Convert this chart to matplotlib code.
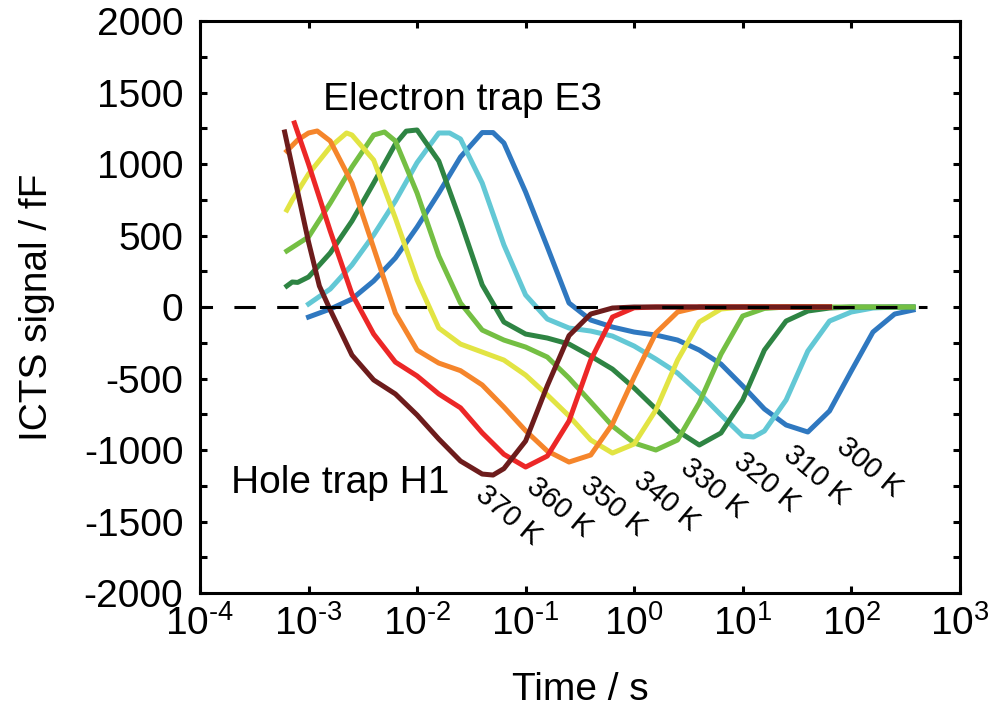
import numpy as np
import matplotlib
matplotlib.use("Agg")
import matplotlib.pyplot as plt
from matplotlib.ticker import MultipleLocator, NullLocator, FixedLocator, FuncFormatter

plt.rcParams['font.family'] = ['Liberation Sans', 'DejaVu Sans']
plt.rcParams['mathtext.fontset'] = 'custom'
plt.rcParams['mathtext.rm'] = 'Liberation Sans'
plt.rcParams['mathtext.default'] = 'regular'
plt.rcParams['axes.unicode_minus'] = False

# ICTS transients: log10(time / s) and signal in fF, one pair per temperature
LOGT_300 = [-3.0, -2.8, -2.6, -2.4, -2.2, -2.0, -1.8, -1.6, -1.4, -1.3, -1.2, -1.0, -0.8, -0.6, -0.4,
            -0.2, 0.0, 0.2, 0.4, 0.6, 0.8, 1.0, 1.2, 1.4, 1.6, 1.8, 2.0, 2.2, 2.4, 2.57]
SIG_300 = [-70, -14, 56, 182, 343, 559, 797, 1049, 1220, 1220, 1147, 804, 420, 28, -91,
           -140, -175, -196, -231, -301, -399, -552, -713, -825, -874, -727, -448, -175, -49, -21]

LOGT_310 = [-3.0, -2.8, -2.6, -2.4, -2.2, -2.0, -1.8, -1.7, -1.6, -1.4, -1.2, -1.0, -0.8, -0.6, -0.4, -0.2,
            0.0, 0.2, 0.4, 0.6, 0.8, 1.0, 1.1, 1.2, 1.4, 1.6, 1.8, 2.0, 2.2, 2.4, 2.57]
SIG_310 = [21, 126, 294, 504, 741, 1010, 1217, 1217, 1175, 867, 434, 84, -84, -147, -168, -203,
           -273, -364, -462, -601, -755, -902, -909, -867, -650, -308, -98, -35, -7, 0, 0]

LOGT_320 = [-3.2, -3.15, -3.1, -3.0, -2.8, -2.6, -2.4, -2.2, -2.1, -2.0, -1.8, -1.6, -1.4, -1.2, -1.0, -0.8,
            -0.6, -0.4, -0.2, 0.0, 0.2, 0.4, 0.6, 0.8, 1.0, 1.2, 1.4, 1.6, 1.8, 2.0, 2.2, 2.4, 2.57]
SIG_320 = [147, 175, 172, 210, 378, 601, 867, 1140, 1230, 1238, 1021, 601, 155, -105, -189, -217,
           -259, -343, -434, -566, -713, -867, -965, -881, -650, -301, -98, -28, -7, 0, 0, 0, 0]

LOGT_330 = [-3.2, -3.0, -2.8, -2.6, -2.4, -2.3, -2.2, -2.0, -1.8, -1.6, -1.4, -1.2, -1.0, -0.8, -0.6, -0.4,
            -0.2, 0.0, 0.2, 0.4, 0.6, 0.8, 1.0, 1.2, 1.4, 1.6, 1.8, 2.0, 2.2, 2.4, 2.57]
SIG_330 = [392, 490, 727, 979, 1203, 1224, 1161, 797, 357, 28, -161, -231, -280, -350, -497, -664,
           -832, -951, -1000, -930, -670, -330, -63, -10, 0, 0, 0, 0, 0, 0, 0]

LOGT_340 = [-3.2, -3.15, -3.0, -2.8, -2.65, -2.6, -2.4, -2.2, -2.0, -1.8, -1.6, -1.4, -1.2, -1.0,
            -0.8, -0.6, -0.4, -0.2, 0.0, 0.2, 0.4, 0.6, 0.8, 1.0, 1.2, 1.4, 1.6, 1.8]
SIG_340 = [678, 748, 930, 1119, 1217, 1203, 1028, 622, 189, -147, -259, -315, -371, -476,
           -615, -762, -930, -1021, -958, -720, -371, -105, -14, 0, 0, 0, 0, 0]

LOGT_350 = [-3.2, -3.1, -3.0, -2.92, -2.8, -2.6, -2.4, -2.2, -2.0, -1.8, -1.6, -1.4, -1.2, -1.0,
            -0.8, -0.6, -0.4, -0.2, 0.0, 0.2, 0.4, 0.6, 0.8, 1.0, 1.2, 1.4, 1.6, 1.8]
SIG_350 = [1091, 1168, 1217, 1231, 1161, 867, 413, -42, -301, -392, -445, -545, -700, -865,
           -1007, -1084, -1035, -818, -490, -182, -35, 0, 0, 0, 0, 0, 0, 0]

LOGT_360 = [-3.13, -3.0, -2.8, -2.6, -2.4, -2.2, -2.0, -1.8, -1.6, -1.4, -1.2, -1.0, -0.8,
            -0.6, -0.4, -0.2, 0.0, 0.2, 0.4, 0.6, 0.8, 1.0, 1.2, 1.4, 1.6, 1.8]
SIG_360 = [1287, 1000, 531, 91, -189, -385, -482, -608, -705, -880, -1030, -1119, -1042,
           -797, -371, -70, -5, 0, 0, 0, 0, 0, 0, 0, 0, 0]

LOGT_370 = [-3.22, -3.0, -2.9, -2.8, -2.6, -2.4, -2.2, -2.0, -1.8, -1.6, -1.4, -1.3, -1.2, -1.0,
            -0.8, -0.6, -0.4, -0.2, 0.0, 0.2, 0.4, 0.6, 0.8, 1.0, 1.2, 1.4, 1.6, 1.8]
SIG_370 = [1224, 455, 147, -20, -336, -510, -608, -755, -923, -1077, -1168, -1175, -1130, -937,
           -550, -200, -49, -7, 0, 0, 0, 0, 0, 0, 0, 0, 0, 0]

TEMPS = [300, 310, 320, 330, 340, 350, 360, 370]
LOGTS = [LOGT_300, LOGT_310, LOGT_320, LOGT_330, LOGT_340, LOGT_350, LOGT_360, LOGT_370]
SIGS = [SIG_300, SIG_310, SIG_320, SIG_330, SIG_340, SIG_350, SIG_360, SIG_370]
COLORS = ['#2f78c0', '#63c8d5', '#2e8443', '#74bf43', '#e2e443', '#f5852b', '#ec2727', '#6d1c1c']

# temperature tags placed under each hole-trap minimum
LABEL_LOGT = [2.17, 1.68, 1.22, 0.73, 0.30, -0.19, -0.69, -1.16]
LABEL_SIG = [-1119, -1175, -1224, -1266, -1357, -1392, -1399, -1455]

X_DECADES = [-4, -3, -2, -1, 0, 1, 2, 3]


def decade_label(x, pos):
    k = int(round(np.log10(x)))
    if k < 0:
        return r"$10^{\text{-}%d}$" % (-k)
    return r"$10^{%d}$" % k


fig = plt.figure(figsize=(10.05, 7.15), dpi=100)
ax = fig.add_axes([0.199, 0.1706, 0.756, 0.80])

for logt, sig, c in zip(LOGTS, SIGS, COLORS):
    ax.plot(10 ** np.array(logt), sig, color=c, lw=3.6, zorder=2)

ax.plot([1e-4, 5e2], [0, 0], color='k', lw=2.2, ls=(2.9, (7, 7)), zorder=3)

for T, lx, ly in zip(TEMPS, LABEL_LOGT, LABEL_SIG):
    ax.text(10 ** lx, ly, f"{T} K", fontsize=21, rotation=-40, rotation_mode='anchor',
            ha='center', va='center')

ax.text(10 ** -2.867, 1448, "Electron trap E3", fontsize=28, ha='left', va='center')
ax.text(10 ** -3.71, -1231, "Hole trap H1", fontsize=28, ha='left', va='center')

ax.set_xscale('log')
ax.set_xlim(1e-4, 1e3)
ax.set_ylim(-2000, 2000)
ax.xaxis.set_major_locator(FixedLocator([10.0 ** k for k in X_DECADES]))
ax.xaxis.set_major_formatter(FuncFormatter(decade_label))
ax.xaxis.set_minor_locator(NullLocator())
ax.yaxis.set_major_locator(MultipleLocator(500))
ax.yaxis.set_minor_locator(MultipleLocator(250))

ax.tick_params(which='both', direction='in', top=True, right=True, length=5, width=2.2)
ax.tick_params(axis='x', labelsize=28, pad=9)
ax.tick_params(axis='y', labelsize=28, pad=12)
for sp in ax.spines.values():
    sp.set_linewidth(2.2)

fig.text(37 / 1005, 1 - 307 / 715, "ICTS signal / fF", fontsize=28, rotation=90,
         ha='center', va='center')
fig.text(580 / 1005, 1 - 690 / 715, "Time / s", fontsize=28, ha='center', va='center')

fig.savefig("out.png", dpi=100)
